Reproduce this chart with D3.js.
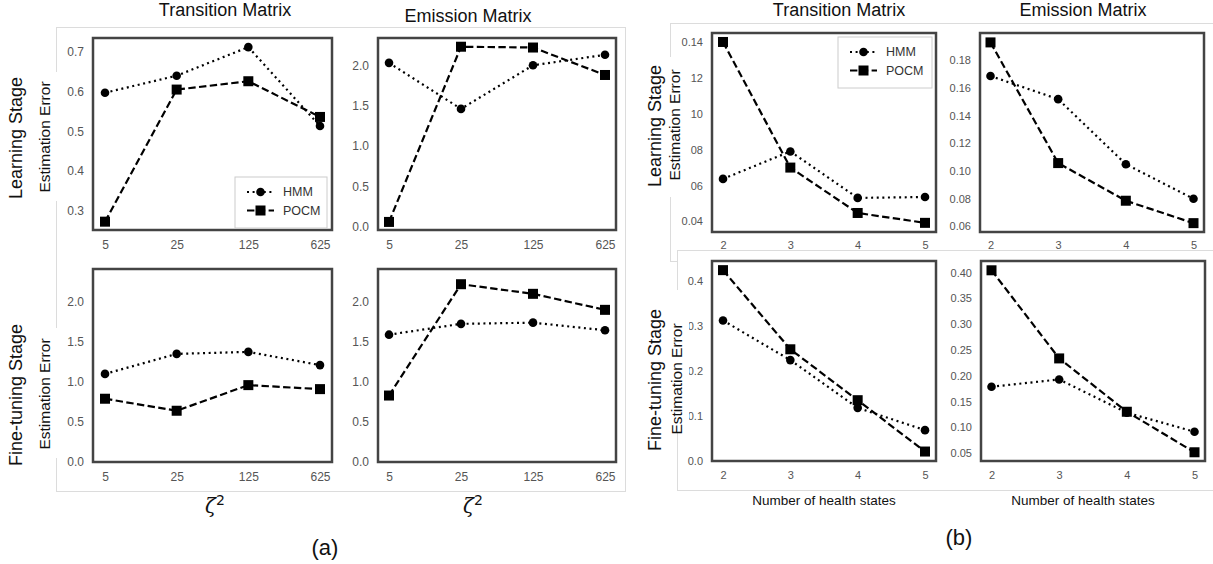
<!DOCTYPE html>
<html>
<head>
    <meta charset="utf-8">
    <title>Estimation Error</title>
    <style>
        body { margin: 0; background: #fff; }
        text { font-family: "Liberation Sans", Arial, sans-serif; }
    </style>
</head>
<body>
    <script src="https://cdnjs.cloudflare.com/ajax/libs/d3/7.9.0/d3.min.js"></script>
    <script>

        // x categories
        const zetaLabels = ["5", "25", "125", "625"];
        const stateLabels = ["2", "3", "4", "5"];

        // (a) values against zeta^2
        const hmmTransLearnA = [0.597, 0.640, 0.712, 0.513];
        const pocmTransLearnA = [0.272, 0.605, 0.626, 0.536];
        const hmmEmisLearnA = [2.03, 1.46, 2.00, 2.13];
        const pocmEmisLearnA = [0.06, 2.23, 2.22, 1.88];
        const hmmTransFineA = [1.10, 1.35, 1.375, 1.21];
        const pocmTransFineA = [0.79, 0.64, 0.96, 0.91];
        const hmmEmisFineA = [1.59, 1.725, 1.74, 1.645];
        const pocmEmisFineA = [0.83, 2.22, 2.10, 1.90];

        // (b) values against number of health states
        const hmmTransLearnB = [0.0637, 0.079, 0.0531, 0.0536];
        const pocmTransLearnB = [0.140, 0.070, 0.0447, 0.0392];
        const hmmEmisLearnB = [0.1687, 0.152, 0.105, 0.080];
        const pocmEmisLearnB = [0.193, 0.1058, 0.0786, 0.0624];
        const hmmTransFineB = [0.312, 0.224, 0.118, 0.0685];
        const pocmTransFineB = [0.4237, 0.248, 0.135, 0.021];
        const hmmEmisFineB = [0.1788, 0.193, 0.1285, 0.0917];
        const pocmEmisFineB = [0.4044, 0.2337, 0.1304, 0.0519];

        // tick labels
        const ticksA1 = [0.3, 0.4, 0.5, 0.6, 0.7];
        const ticksA2 = [0, 0.5, 1.0, 1.5, 2.0];
        const ticksB1 = [0.04, 0.06, 0.08, 0.10, 0.12, 0.14];
        const ticksB2 = [0.06, 0.08, 0.10, 0.12, 0.14, 0.16, 0.18];
        const ticksB3 = [0.0, 0.1, 0.2, 0.3, 0.4];
        const ticksB4 = [0.05, 0.10, 0.15, 0.20, 0.25, 0.30, 0.35, 0.40];

        const width = 1213;
        const height = 564;

        const svg = d3.select("body")
            .append("svg")
            .attr("width", width)
            .attr("height", height);

        const frameColor = "#dcdcdc";

        function drawPanel(p) {
            const g = svg.append("g");

            const x = d3.scalePoint()
                .domain(p.cats)
                .range([p.x0 + p.pad, p.x1 - p.pad]);

            const y = d3.scaleLinear()
                .domain(p.yDomain)
                .range([p.y1, p.y0]);

            g.append("g")
                .attr("transform", `translate(${p.x0},0)`)
                .call(d3.axisLeft(y).tickValues(p.ticks).tickFormat(d3.format(p.fmt)).tickSize(0).tickPadding(9))
                .call(a => a.select(".domain").remove())
                .selectAll("text")
                .attr("fill", "#555")
                .style("font-size", p.fs + "px")
                .style("font-family", "Liberation Sans, Arial, sans-serif");

            g.append("g")
                .attr("transform", `translate(0,${p.y1})`)
                .call(d3.axisBottom(x).tickSize(0).tickPadding(p.xPad || 10))
                .call(a => a.select(".domain").remove())
                .selectAll("text")
                .attr("fill", "#555")
                .style("font-size", p.fs + "px")
                .style("font-family", "Liberation Sans, Arial, sans-serif");

            const line = d3.line()
                .x((d, i) => x(p.cats[i]))
                .y(d => y(d));

            g.append("path")
                .datum(p.hmm)
                .attr("d", line)
                .attr("fill", "none")
                .attr("stroke", "#000")
                .attr("stroke-width", 2.2)
                .attr("stroke-dasharray", "2 3.6");

            g.append("path")
                .datum(p.pocm)
                .attr("d", line)
                .attr("fill", "none")
                .attr("stroke", "#000")
                .attr("stroke-width", 2.2)
                .attr("stroke-dasharray", "7.4 3.4");

            g.selectAll(".dot")
                .data(p.hmm)
                .enter()
                .append("circle")
                .attr("cx", (d, i) => x(p.cats[i]))
                .attr("cy", d => y(d))
                .attr("r", 4.3)
                .attr("fill", "#000");

            g.selectAll(".sq")
                .data(p.pocm)
                .enter()
                .append("rect")
                .attr("x", (d, i) => x(p.cats[i]) - 5)
                .attr("y", d => y(d) - 5)
                .attr("width", 10)
                .attr("height", 10)
                .attr("fill", "#000");

            g.append("rect")
                .attr("x", p.x0)
                .attr("y", p.y0)
                .attr("width", p.x1 - p.x0)
                .attr("height", p.y1 - p.y0)
                .attr("fill", "none")
                .attr("stroke", "#444")
                .attr("stroke-width", 2.5);

            if (p.legend) drawLegend(p.legend);
        }

        function drawLegend(l) {
            const g = svg.append("g");
            g.append("rect")
                .attr("x", l.x).attr("y", l.y)
                .attr("width", l.w).attr("height", l.h)
                .attr("fill", "#fff")
                .attr("stroke", "#ccc");
            const items = [
                {name: "HMM", dash: "2 3.6", mark: "circle"},
                {name: "POCM", dash: "7.4 3.4", mark: "square"}
            ];
            items.forEach((it, i) => {
                const cy = l.y + 15 + i * 18.5;
                g.append("line")
                    .attr("x1", l.x + 12).attr("x2", l.x + 39)
                    .attr("y1", cy).attr("y2", cy)
                    .attr("stroke", "#000").attr("stroke-width", 2.2)
                    .attr("stroke-dasharray", it.dash);
                if (it.mark === "circle") {
                    g.append("circle").attr("cx", l.x + 25.5).attr("cy", cy).attr("r", 4.3).attr("fill", "#000");
                } else {
                    g.append("rect").attr("x", l.x + 20.5).attr("y", cy - 5).attr("width", 10).attr("height", 10).attr("fill", "#000");
                }
                g.append("text")
                    .attr("x", l.x + 48).attr("y", cy)
                    .attr("dy", "0.35em")
                    .attr("fill", "#333")
                    .style("font-size", "12.5px")
                    .text(it.name);
            });
        }

        function rowLabel(cx1, cx2, cy, bg, stage) {
            svg.append("rect")
                .attr("x", bg[0]).attr("y", bg[1])
                .attr("width", bg[2] - bg[0]).attr("height", bg[3] - bg[1])
                .attr("fill", "#fff");
            svg.append("text")
                .attr("transform", `translate(${cx1},${cy}) rotate(-90)`)
                .attr("text-anchor", "middle")
                .attr("dy", "0.35em")
                .style("font-size", "18px")
                .attr("fill", "#111")
                .text(stage);
            svg.append("text")
                .attr("transform", `translate(${cx2},${cy - 1}) rotate(-90)`)
                .attr("text-anchor", "middle")
                .attr("dy", "0.35em")
                .style("font-size", "15.5px")
                .attr("fill", "#111")
                .text("Estimation Error");
        }

        function title(x, y, t, size) {
            svg.append("text")
                .attr("x", x).attr("y", y)
                .attr("text-anchor", "middle")
                .attr("dy", "0.35em")
                .style("font-size", (size || 18) + "px")
                .attr("fill", "#111")
                .text(t);
        }

        function zeta(x, y) {
            const t = svg.append("text")
                .attr("x", x).attr("y", y)
                .attr("text-anchor", "middle")
                .attr("fill", "#111")
                .style("font-family", "DejaVu Serif, serif")
                .style("font-size", "20px");
            t.append("tspan").style("font-style", "italic").text("ζ");
            t.append("tspan").attr("dy", -8).style("font-size", "14px").style("font-family", "DejaVu Sans, sans-serif").text("2");
        }

        // ---- (a) ----
        svg.append("rect")
            .attr("x", 56.5).attr("y", 27.5)
            .attr("width", 569).attr("height", 464)
            .attr("fill", "none").attr("stroke", frameColor);

        drawPanel({x0: 93, x1: 332, y0: 38, y1: 230, pad: 12, cats: zetaLabels,
            yDomain: [0.251, 0.735], ticks: ticksA1, fmt: ".1f", fs: 12,
            hmm: hmmTransLearnA, pocm: pocmTransLearnA,
            legend: {x: 235, y: 177, w: 92, h: 51}});
        drawPanel({x0: 378, x1: 616, y0: 38, y1: 230, pad: 11, cats: zetaLabels,
            yDomain: [-0.04, 2.338], ticks: ticksA2, fmt: ".1f", fs: 12,
            hmm: hmmEmisLearnA, pocm: pocmEmisLearnA});
        drawPanel({x0: 93, x1: 332, y0: 269, y1: 462, pad: 12, cats: zetaLabels,
            yDomain: [0, 2.41], ticks: ticksA2, fmt: ".1f", fs: 12,
            hmm: hmmTransFineA, pocm: pocmTransFineA});
        drawPanel({x0: 378, x1: 616, y0: 269, y1: 462, pad: 11, cats: zetaLabels,
            yDomain: [0, 2.41], ticks: ticksA2, fmt: ".1f", fs: 12,
            hmm: hmmEmisFineA, pocm: pocmEmisFineA});

        rowLabel(16, 45, 138, [4, 72, 59, 201], "Learning Stage");
        rowLabel(16, 45, 395, [4, 328, 59, 458], "Fine-tuning Stage");

        title(225, 10, "Transition Matrix");
        title(468, 16, "Emission Matrix");
        zeta(215, 513);
        zeta(473, 513);
        title(325, 547, "(a)", 22);

        // ---- (b) ----
        svg.append("rect")
            .attr("x", 670.5).attr("y", 23.5)
            .attr("width", 560).attr("height", 238)
            .attr("fill", "none").attr("stroke", frameColor);

        drawPanel({x0: 712, x1: 936, y0: 33, y1: 232, pad: 11, cats: stateLabels,
            yDomain: [0.0341, 0.145], ticks: ticksB1, fmt: ".2f", fs: 11, xPad: 9,
            hmm: hmmTransLearnB, pocm: pocmTransLearnB,
            legend: {x: 838, y: 37, w: 94, h: 51}});
        drawPanel({x0: 980, x1: 1204, y0: 33, y1: 232, pad: 10.5, cats: stateLabels,
            yDomain: [0.056, 0.1998], ticks: ticksB2, fmt: ".2f", fs: 11, xPad: 9,
            hmm: hmmEmisLearnB, pocm: pocmEmisLearnB});

        svg.append("rect")
            .attr("x", 677.5).attr("y", 250.5)
            .attr("width", 560).attr("height", 240)
            .attr("fill", "#fff").attr("stroke", frameColor);

        drawPanel({x0: 712, x1: 936, y0: 261, y1: 461, pad: 11, cats: stateLabels,
            yDomain: [0, 0.444], ticks: ticksB3, fmt: ".1f", fs: 11,
            hmm: hmmTransFineB, pocm: pocmTransFineB});
        drawPanel({x0: 981, x1: 1205, y0: 261, y1: 461, pad: 10.5, cats: stateLabels,
            yDomain: [0.035, 0.4224], ticks: ticksB4, fmt: ".2f", fs: 11,
            hmm: hmmEmisFineB, pocm: pocmEmisFineB});

        rowLabel(655, 675, 126, [640, 57, 690, 197], "Learning Stage");
        rowLabel(655, 677, 380, [640, 290, 689, 432], "Fine-tuning Stage");

        title(839, 10, "Transition Matrix");
        title(1083, 10, "Emission Matrix");
        title(824, 500, "Number of health states", 13.5);
        title(1083, 500, "Number of health states", 13.5);
        title(959, 537, "(b)", 22);

    </script>
</body>
</html>
